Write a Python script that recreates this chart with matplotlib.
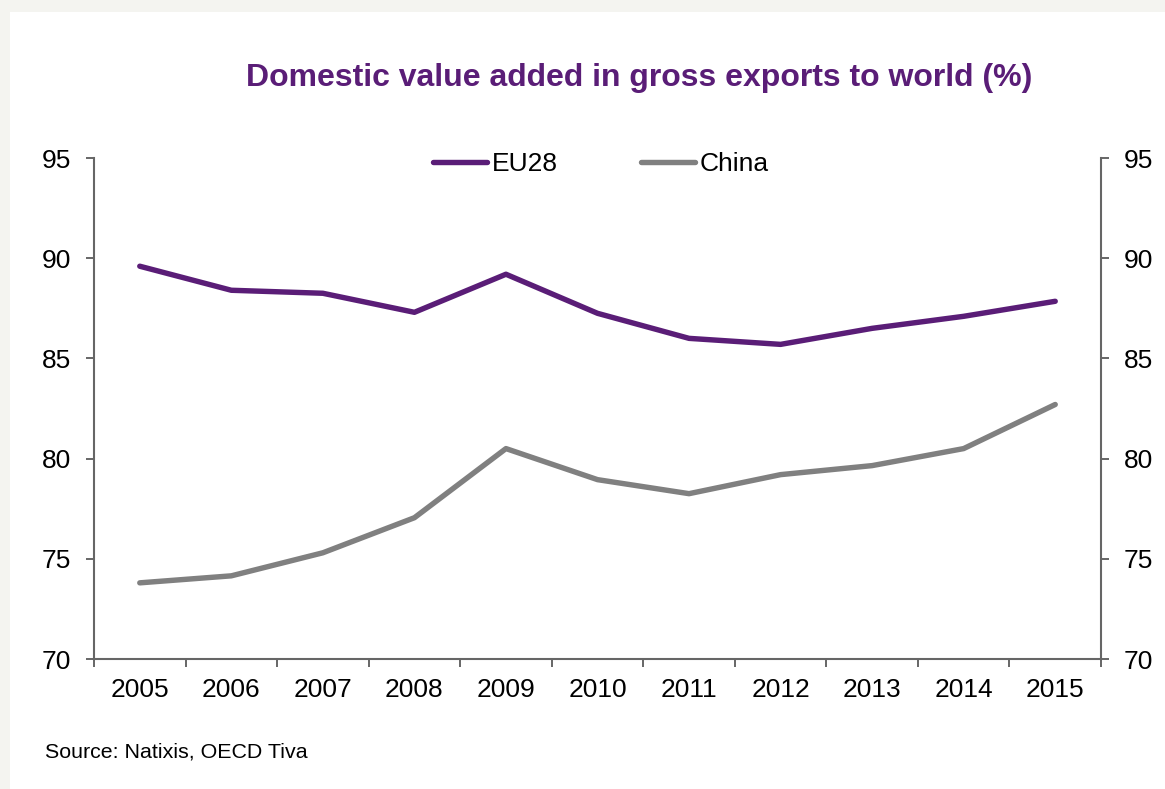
import matplotlib
matplotlib.use("Agg")
import matplotlib.pyplot as plt
from matplotlib.patches import Rectangle

plt.rcParams['font.family'] = ['Liberation Sans', 'DejaVu Sans']

years = ['2005', '2006', '2007', '2008', '2009', '2010', '2011', '2012', '2013', '2014', '2015']
eu28 = [89.6, 88.4, 88.25, 87.3, 89.2, 87.25, 86.0, 85.7, 86.5, 87.1, 87.85]
china = [73.8, 74.15, 75.3, 77.05, 80.5, 78.95, 78.25, 79.2, 79.65, 80.5, 82.7]
y_ticks = [70, 75, 80, 85, 90, 95]

PURPLE = '#5a1d77'
GREY = '#808080'
AXIS = '#666666'

W, H = 1165, 789
fig = plt.figure(figsize=(W / 100, H / 100), dpi=100, facecolor='#f4f4f0')
fig.patches.append(Rectangle((10 / W, 0), 1, 1 - 12 / H, transform=fig.transFigure,
                             facecolor='white', edgecolor='none', zorder=-10))

ax = fig.add_axes([94 / W, 1 - 659 / H, (1101 - 94) / W, (659 - 158) / H])
ax.set_facecolor('none')
ax.set_zorder(5)

x = list(range(len(years)))
ax.plot(x, eu28, color=PURPLE, lw=3.9, solid_capstyle='round', label='EU28')
ax.plot(x, china, color=GREY, lw=3.9, solid_capstyle='round', label='China')

ax.set_xlim(-0.5, len(years) - 0.5)
ax.set_ylim(70, 95)

# category boundaries carry the tick marks, centres carry the labels
ax.set_xticks([i - 0.5 for i in range(len(years) + 1)])
ax.set_xticklabels([])
ax.set_xticks(x, minor=True)
ax.set_xticklabels(years, minor=True)
ax.tick_params(axis='x', which='major', length=5.5, width=1.4, color=AXIS, direction='out')
ax.tick_params(axis='x', which='minor', length=0, pad=14, labelsize=19)

ax.set_yticks(y_ticks)
ax.tick_params(axis='y', which='major', length=5.5, width=1.4, color=AXIS,
               direction='out', labelsize=19, pad=11,
               left=True, right=True, labelleft=True, labelright=True)

ax.spines['top'].set_visible(False)
for side in ['left', 'right', 'bottom']:
    ax.spines[side].set_color(AXIS)
    ax.spines[side].set_linewidth(1.5)

leg = ax.legend(loc='center', bbox_to_anchor=(0.5 + 3 / 1007, 1 - 6 / 501), ncol=2,
                frameon=False, fontsize=19, handlelength=2.08, handletextpad=0.15,
                columnspacing=3.15, borderaxespad=0)

fig.text(639.5 / W, 1 - 78 / H, 'Domestic value added in gross exports to world (%)',
         ha='center', va='center', fontsize=23, fontweight='bold', color=PURPLE)
fig.text(45 / W, 1 - 752 / H, 'Source: Natixis, OECD Tiva', ha='left', va='center',
         fontsize=15.4, color='black')

fig.savefig('out.png', dpi=100, facecolor=fig.get_facecolor())
